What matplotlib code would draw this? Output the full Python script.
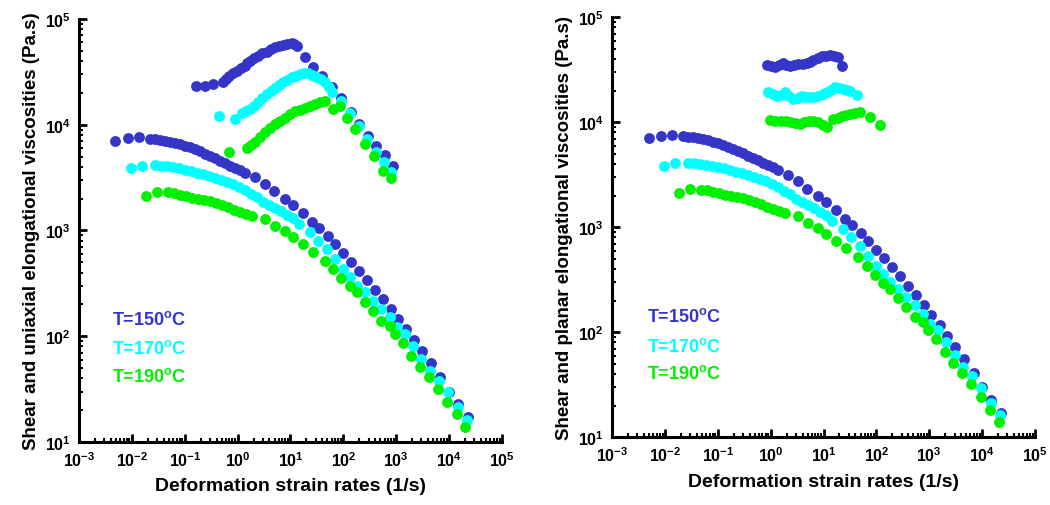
import math
import matplotlib
matplotlib.use("Agg")
import matplotlib.pyplot as plt
from matplotlib.ticker import FuncFormatter, LogLocator, NullFormatter

plt.rcParams['font.family'] = ['Liberation Sans', 'DejaVu Sans']
plt.rcParams['font.weight'] = 'bold'
plt.rcParams['mathtext.fontset'] = 'custom'
plt.rcParams['mathtext.rm'] = 'Liberation Sans:bold'
plt.rcParams['mathtext.bf'] = 'Liberation Sans:bold'

# 剪切粘度 (两图共用)
shear150_x = [0.0049, 0.0083, 0.0138, 0.022, 0.0273, 0.034, 0.0422, 0.0525, 0.0652, 0.081, 0.101, 0.125,
              0.156, 0.194, 0.240, 0.299, 0.372, 0.462, 0.574, 0.714, 0.887, 1.10, 1.37, 2.12, 3.28, 4.9,
              7.8, 11.2, 16.9, 25, 35, 51, 69, 100, 137, 200, 283, 397, 565, 780, 1090, 1560, 2170, 3090,
              4500, 6850, 9960, 14800, 22800]
shear150_y = [7060, 7480, 7600, 7330, 7280, 7220, 7060, 6910, 6740, 6560, 6340, 6110,
              5850, 5600, 5340, 5090, 4820, 4560, 4340, 4110, 3940, 3730, 3490, 3180, 2750, 2340,
              1980, 1750, 1460, 1210, 1046, 880, 743, 611, 506, 416, 342, 275, 225, 180, 145, 117, 92, 73,
              56, 41, 30, 22.8, 17.1]

shear170_x = [0.0096, 0.0158, 0.0274, 0.0355, 0.0461, 0.0598, 0.0776, 0.101, 0.131, 0.170, 0.221, 0.287,
              0.372, 0.483, 0.628, 0.815, 1.06, 1.37, 1.78, 2.32, 3.01, 3.91, 5.07, 6.59, 8.55, 11.1, 14.4,
              23, 33, 48, 69, 100, 133, 182, 256, 364, 525, 755, 1040, 1450, 2090, 3000, 4300, 6460,
              9550, 14800, 21900]
shear170_y = [3860, 4090, 4130, 4090, 4040, 3950, 3870, 3770, 3660, 3530, 3400, 3270,
              3150, 3030, 2900, 2750, 2600, 2430, 2230, 2060, 1870, 1740, 1620, 1520, 1410, 1300, 1160,
              960, 800, 667, 537, 432, 360, 300, 260, 216, 180, 151, 121, 105, 81, 61, 47, 38,
              29.8, 21.2, 16.2]

shear190_x = [0.0185, 0.0295, 0.049, 0.0625, 0.081, 0.105, 0.137, 0.178, 0.231, 0.299, 0.389, 0.505,
              0.656, 0.851, 1.10, 1.43, 1.86, 3.28, 5.07, 7.8, 11.2, 17.4, 27, 45, 65, 92, 133, 178,
              256, 364, 525, 755, 935, 1340, 1940, 2800, 4130, 6150, 9300, 13800, 20400]
shear190_y = [2130, 2320, 2290, 2260, 2160, 2110, 2050, 2000, 1950, 1890, 1820, 1750,
              1650, 1550, 1480, 1420, 1380, 1280, 1110, 990, 860, 743, 630, 517, 431, 352, 296, 260,
              212, 174, 140, 126, 105, 86, 65, 51, 41, 32, 24, 18.3, 13.9]

# 单轴拉伸粘度 (左图)
uni150_x = [0.16, 0.24, 0.347, 0.52, 0.601, 0.69, 0.815, 0.955, 1.15, 1.37, 1.53, 1.71, 2.03, 2.45,
            2.94, 3.52, 4.26, 5.07, 6.04, 7.3, 8.73, 10.5, 11.9, 13.4, 18.6, 27, 38.6, 62, 89, 137,
            198, 293, 422, 610, 875]
uni150_y = [23400, 23100, 24300, 25200, 27000, 29100, 30800, 32400, 34400, 36100, 38300, 40300, 42800,
            45000, 47200, 49100, 51500, 54000, 55600, 56700, 58000, 59300, 58600, 55900, 43500, 34900,
            29100, 22600, 17800, 13300, 10200, 7760, 6250, 5170, 4100]

uni170_x = [0.45, 0.89, 1.19, 1.43, 1.71, 2.03, 2.45, 2.94, 3.52, 4.26, 5.07, 6.04, 7.3, 8.73, 10.5,
            12.6, 15, 17.9, 21.6, 25.9, 31, 37.6, 45, 53.2, 62, 92, 133, 195, 285, 422, 575, 810]
uni170_y = [12000, 11300, 12900, 13500, 14100, 15200, 16500, 17900, 19500, 20800, 22100, 23600, 25200,
            26600, 28100, 29200, 30200, 30600, 30900, 29800, 28100, 26800, 25200, 22800, 20300, 16900,
            12900, 9800, 7330, 5560, 4400, 3550]

uni190_x = [0.69, 1.48, 1.78, 2.12, 2.64, 3.28, 4.08, 5.07, 6.31, 7.8, 9.75, 12, 15.1, 18.6, 23.3,
            28.6, 36.0, 45, 64, 85, 115, 164, 254, 376, 565, 810]
uni190_y = [5560, 5980, 6380, 6810, 7600, 8470, 9310, 10200, 10900, 11700, 12600, 13600, 13900, 14300,
            15000, 15700, 16300, 16900, 14100, 15200, 11700, 9100, 6560, 5100, 3670, 3110]

# 平面拉伸粘度 (右图)
pla150_x = [0.87, 1.02, 1.21, 1.43, 1.69, 1.98, 2.33, 2.77, 3.35, 4.02, 4.8, 5.57, 6.4, 7.73, 9.3,
            11.2, 13.3, 15.8, 19, 22]
pla150_y = [35200, 34300, 33500, 35200, 36700, 35500, 34600, 35200, 35900, 36300, 36700, 37900, 39500,
            41000, 42600, 43200, 43800, 42700, 41600, 34600]

pla170_x = [0.9, 1.09, 1.31, 1.57, 1.87, 2.23, 2.69, 3.23, 3.87, 4.68, 5.57, 6.63, 7.96, 9.59, 11.5,
            13.9, 16.5, 19.7, 23.8, 27.3, 31.7, 42.5]
pla170_y = [19300, 18600, 17900, 18400, 19300, 17800, 16700, 17200, 17900, 17600, 17300, 17600, 17900,
            18800, 19600, 20500, 21500, 21200, 20700, 20300, 20000, 18200]

pla190_x = [0.975, 1.21, 1.55, 1.92, 2.33, 2.90, 3.6, 4.29, 5.2, 6.35, 7.96, 9.82, 11.8, 15.3, 18.5,
            22, 26.7, 31.7, 39.5, 49, 76, 117]
pla190_y = [10600, 10400, 10400, 10200, 10000, 9850, 9640, 9960, 10400, 10200, 10000, 9530, 8960,
            10700, 11100, 11400, 11700, 12000, 12300, 12600, 11200, 9480]

labels = ['T=150', 'T=170', 'T=190']
colors = ['#3535C8', '#00FFFF', '#00F000']

shear = [(shear150_x, shear150_y), (shear170_x, shear170_y), (shear190_x, shear190_y)]
uni = [(uni150_x, uni150_y), (uni170_x, uni170_y), (uni190_x, uni190_y)]
pla = [(pla150_x, pla150_y), (pla170_x, pla170_y), (pla190_x, pla190_y)]

fig = plt.figure(figsize=(10.5, 5.06), dpi=100)
ax1 = fig.add_axes([0.0752, 0.1245, 0.4029, 0.836])
ax2 = fig.add_axes([0.5829, 0.1338, 0.4029, 0.830])

fmt = FuncFormatter(lambda v, p: r'$\mathbf{10^{%d}}$' % round(math.log10(v)))


def draw(ax, elong, ylabel, leg_x, leg_y):
    for (sx, sy), c in zip(shear, colors):
        ax.plot(sx, sy, 'o', color=c, markersize=7.8, markeredgewidth=0)
    for (ex, ey), c in zip(elong, colors):
        ax.plot(ex, ey, 'o', color=c, markersize=7.8, markeredgewidth=0)
    ax.set_xscale('log')
    ax.set_yscale('log')
    ax.set_xlim(1e-3, 1e5)
    ax.set_ylim(1e1, 1e5)
    ax.xaxis.set_major_locator(LogLocator(base=10, numticks=20))
    ax.yaxis.set_major_locator(LogLocator(base=10, numticks=20))
    ax.xaxis.set_minor_locator(LogLocator(base=10, subs=range(2, 10), numticks=20))
    ax.yaxis.set_minor_locator(LogLocator(base=10, subs=range(2, 10), numticks=20))
    ax.xaxis.set_major_formatter(fmt)
    ax.yaxis.set_major_formatter(fmt)
    ax.xaxis.set_minor_formatter(NullFormatter())
    ax.yaxis.set_minor_formatter(NullFormatter())
    for s in ['top', 'right']:
        ax.spines[s].set_visible(False)
    for s in ['left', 'bottom']:
        ax.spines[s].set_linewidth(2.2)
    ax.tick_params(which='major', direction='in', length=6, width=2, labelsize=11.5, pad=6)
    ax.tick_params(which='minor', direction='in', length=3, width=1.5)
    ax.set_xlabel('Deformation strain rates (1/s)', fontsize=14, fontweight='bold', labelpad=6)
    ax.set_ylabel(ylabel, fontsize=13.5, fontweight='bold', labelpad=3)
    for i, (lab, c) in enumerate(zip(labels, colors)):
        ax.text(leg_x, leg_y[i], lab + r'$^{\mathbf{o}}$C', color=c, fontsize=13, fontweight='bold',
                transform=ax.transAxes, va='center', ha='left')


draw(ax1, uni, 'Shear and uniaxial elongational viscosities (Pa.s)', 0.078, [0.291, 0.222, 0.155])
draw(ax2, pla, 'Shear and planar elongational viscosities (Pa.s)', 0.082, [0.290, 0.218, 0.153])

plt.savefig('out.png', dpi=100)
plt.close()
